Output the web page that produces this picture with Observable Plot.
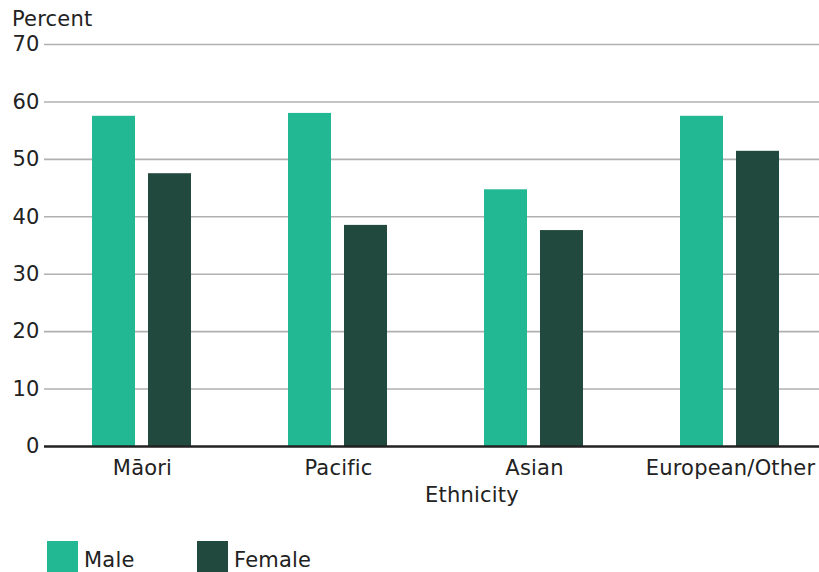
<!DOCTYPE html>
<html>
<head>
<meta charset="utf-8">
<script src="https://cdn.jsdelivr.net/npm/d3@7"></script>
<script src="https://cdn.jsdelivr.net/npm/@observablehq/plot@0.6"></script>
<style>
  html, body { margin: 0; padding: 0; background: #fff; }
  #wrap {
    position: relative; width: 819px; height: 572px; overflow: hidden;
    font-family: "DejaVu Sans", sans-serif; color: #222;
  }
  .lbl { position: absolute; font-size: 21px; line-height: 21px; letter-spacing: 0.2px; white-space: nowrap; }
  #chart { position: absolute; left: 0; top: 0; width: 828px; }
  #chart svg { max-width: none !important; }
  .key { position: absolute; width: 31px; height: 31px; }
</style>
</head>
<body>
<div id="wrap">
  <div id="chart"></div>
  <div class="lbl" style="left:12px; top:9px;">Percent</div>
  <div class="lbl" id="xlabel" style="left:472px; top:485px; transform:translateX(-50%);">Ethnicity</div>
  <div id="legend"></div>
</div>
<script>
// Share of each group, by ethnicity and sex (percent)
const ethnicities = ["Māori", "Pacific", "Asian", "European/Other"];
const sexes = ["Male", "Female"];
const maleValues = [57.5, 58.0, 44.7, 57.5];
const femaleValues = [47.5, 38.5, 37.6, 51.4];
const yTicks = [0, 10, 20, 30, 40, 50, 60, 70];
const colors = ["#22b894", "#21493d"];

const rows = ethnicities.flatMap((e, i) => [
  {ethnicity: e, sex: sexes[0], value: maleValues[i]},
  {ethnicity: e, sex: sexes[1], value: femaleValues[i]}
]);

const chart = Plot.plot({
  width: 828,
  height: 482,
  marginTop: 44,
  marginBottom: 36,
  marginLeft: 43,
  marginRight: 0,
  style: {fontFamily: "DejaVu Sans, sans-serif", fontSize: "21px", letterSpacing: "0.2px", color: "#222", background: "#fff", maxWidth: "none"},
  fx: {domain: ethnicities, padding: 0, axis: "bottom", label: null, tickSize: 0, tickPadding: 14},
  x: {domain: sexes, paddingInner: 0.228, paddingOuter: 0.836, axis: null},
  y: {domain: [0, 70], ticks: yTicks, tickSize: 0, tickPadding: 5, label: null},
  color: {domain: sexes, range: colors},
  marks: [
    Plot.ruleY(yTicks.filter(d => d > 0), {stroke: "#b0b0b0", strokeWidth: 1.6}),
    Plot.barY(rows, {fx: "ethnicity", x: "sex", y: "value", fill: "sex"}),
    Plot.ruleY([0], {stroke: "#222", strokeWidth: 2.5})
  ]
});
document.getElementById("chart").appendChild(chart);

// Legend below the chart
const legend = document.getElementById("legend");
const keyLeft = [47, 197];
sexes.forEach((s, i) => {
  const sw = document.createElement("div");
  sw.className = "key";
  sw.style.left = keyLeft[i] + "px";
  sw.style.top = "541px";
  sw.style.background = colors[i];
  legend.appendChild(sw);
  const t = document.createElement("div");
  t.className = "lbl";
  t.style.left = (keyLeft[i] + 37) + "px";
  t.style.top = "550px";
  t.textContent = s;
  legend.appendChild(t);
});
</script>
</body>
</html>
